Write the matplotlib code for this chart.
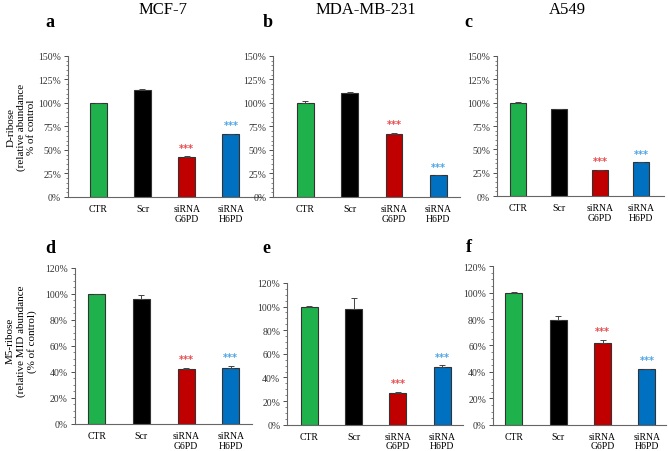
import matplotlib
matplotlib.use("Agg")
import matplotlib.pyplot as plt
from matplotlib.ticker import MultipleLocator, AutoMinorLocator, PercentFormatter

plt.rcParams['font.family'] = ['Liberation Serif', 'DejaVu Serif']

groups = ["CTR", "Scr", "siRNA\nG6PD", "siRNA\nH6PD"]
colors = ["#1fb14c", "#000000", "#c00000", "#0070c0"]
star_colors = [None, None, "#e8474a", "#4aa3e6"]

cells = ["MCF-7", "MDA-MB-231", "A549"]

# D-ribose, relative abundance (% of control)
dribose_vals = [[100, 114, 43, 67],
                [100, 111, 67, 23],
                [100, 93, 28, 36]]
dribose_err = [[0.3, 1.0, 0.5, 0.5],
               [2.0, 0.5, 1.5, 0.3],
               [0.5, 0.3, 0.3, 0.3]]

# M5-ribose, relative MID abundance (% of control)
m5_vals = [[100, 96, 42, 43],
           [100, 98, 27, 49],
           [100, 79, 62, 42]]
m5_err = [[0.3, 3.0, 1.0, 1.5],
          [0.3, 9.5, 0.7, 1.5],
          [0.3, 3.5, 2.5, 0.3]]

letters = ["a", "b", "c", "d", "e", "f"]

# axes rectangles (fig fraction) and x-limits
rects = [[0.102, 0.562, 0.290, 0.312],
         [0.409, 0.562, 0.280, 0.312],
         [0.744, 0.564, 0.250, 0.310],
         [0.112, 0.060, 0.265, 0.345],
         [0.430, 0.058, 0.263, 0.314],
         [0.738, 0.058, 0.259, 0.351]]
xlims = [(-0.68, 3.7), (-0.73, 3.5), (-0.51, 3.56),
         (-0.49, 3.47), (-0.5, 3.47), (-0.47, 3.43)]

fig = plt.figure(figsize=(6.68, 4.52), dpi=100)

for i in range(6):
    ax = fig.add_axes(rects[i])
    if i < 3:
        vals, err = dribose_vals[i], dribose_err[i]
        top, step, nminor = 150, 25, 5
    else:
        vals, err = m5_vals[i - 3], m5_err[i - 3]
        top, step, nminor = 120, 20, 4
    x = range(len(groups))
    ax.bar(x, vals, width=0.38, color=colors, edgecolor="#333333", linewidth=0.8,
           yerr=[[0] * 4, err], capsize=2,
           error_kw=dict(elinewidth=0.7, capthick=0.7, ecolor="#444444"))
    for j in (2, 3):
        ax.text(j, vals[j] + err[j] + top * 0.025, "***", color=star_colors[j],
                ha="center", va="bottom", fontsize=7, fontweight="bold",
                family=["DejaVu Sans"])
    ax.set_xlim(*xlims[i])
    ax.set_ylim(0, top)
    ax.yaxis.set_major_locator(MultipleLocator(step))
    ax.yaxis.set_minor_locator(AutoMinorLocator(nminor))
    ax.yaxis.set_major_formatter(PercentFormatter(decimals=0))
    ax.set_xticks(list(x))
    ax.set_xticklabels(groups, fontsize=7, linespacing=1.1)
    ax.tick_params(axis="x", length=0, pad=5)
    ax.tick_params(axis="y", which="major", length=3, width=0.6, labelsize=7,
                   colors="#333333", pad=2)
    ax.tick_params(axis="y", which="minor", length=1.8, width=0.5, colors="#555555")
    for s in ("top", "right"):
        ax.spines[s].set_visible(False)
    for s in ("left", "bottom"):
        ax.spines[s].set_color("#666666")
        ax.spines[s].set_linewidth(0.8)

# column titles
for cx, name in zip([0.244, 0.547, 0.85], cells):
    fig.text(cx, 0.996, name, ha="center", va="top", fontsize=12)

# panel letters
letter_pos = [(0.068, 0.95), (0.393, 0.95), (0.695, 0.95),
              (0.068, 0.45), (0.393, 0.45), (0.698, 0.452)]
for (lx, ly), l in zip(letter_pos, letters):
    fig.text(lx, ly, l, ha="left", va="center", fontsize=13, fontweight="bold")

# y labels
fig.text(0.032, 0.718, "D-ribose\n(relative abundance\n% of control", rotation=90,
         ha="center", va="center", fontsize=8, linespacing=1.15)
fig.text(0.032, 0.245, "M5-ribose\n(relative MID abundance\n(% of control)", rotation=90,
         ha="center", va="center", fontsize=8, linespacing=1.15)

fig.savefig("out.png", dpi=100)
